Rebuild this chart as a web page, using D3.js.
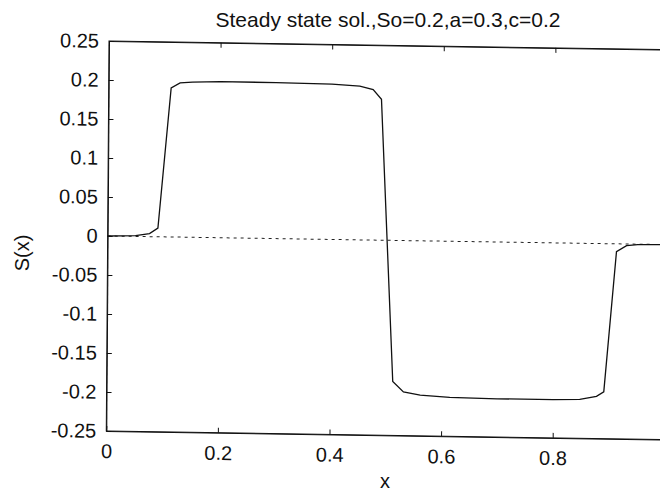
<!DOCTYPE html>
<head>
  <meta charset="utf-8">
  <script src="https://d3js.org/d3.v7.min.js"></script>
  <style>
    body { margin:0; background:#fff; }
    text { font-family: "Liberation Sans", Arial, sans-serif; fill:#111; }
  </style>
</head>

<body>
  <script>
    // steady state solution
    var xs = [0, 0.05, 0.075, 0.09, 0.112, 0.128, 0.15, 0.2, 0.3, 0.4, 0.45, 0.474, 0.489,
              0.5127, 0.532, 0.562, 0.615, 0.7, 0.8, 0.848, 0.878, 0.891, 0.912, 0.93, 0.95, 1.0];
    var ss = [0, 0.001, 0.004, 0.0112, 0.191, 0.1976, 0.199, 0.2, 0.2, 0.199, 0.197, 0.193, 0.1807,
              -0.181, -0.194, -0.1977, -0.2, -0.201, -0.201, -0.2, -0.196, -0.19, -0.0101, -0.0022, -0.0005, 0];
    var yTicks = [0.25, 0.2, 0.15, 0.1, 0.05, 0, -0.05, -0.1, -0.15, -0.2, -0.25];
    var yTickLabels = ["0.25", "0.2", "0.15", "0.1", "0.05", "0", "-0.05", "-0.1", "-0.15", "-0.2", "-0.25"];
    var xTicks = [0, 0.2, 0.4, 0.6, 0.8];
    var xTickLabels = ["0", "0.2", "0.4", "0.6", "0.8"];

    var width = 660, height = 492;
    var w = 558, h = 390;   // plot box (right edge falls off the page)

    var svg = d3.select('body').append("svg")
      .attr("width", width)
      .attr("height", height);

    // the scanned figure is slightly skewed
    var g = svg.append("g")
      .attr("transform", "translate(109,41) matrix(1,0.0154,-0.007,1,0,0)");

    var x = d3.scaleLinear().domain([0, 1]).range([0, w]);
    var y = d3.scaleLinear().domain([-0.25, 0.25]).range([h, 0]);

    // zero line
    g.append("line")
      .attr("x1", x(0)).attr("x2", x(1))
      .attr("y1", y(0)).attr("y2", y(0))
      .attr("stroke", "#222")
      .attr("stroke-width", 1)
      .attr("stroke-dasharray", "3,4");

    var line = d3.line()
      .x(function(d) { return x(d[0]); })
      .y(function(d) { return y(d[1]); });

    g.append("path")
      .datum(xs.map(function(v, i) { return [v, ss[i]]; }))
      .attr("d", line)
      .attr("fill", "none")
      .attr("stroke", "#111")
      .attr("stroke-width", 1.3);

    var yAxis = d3.axisLeft(y).tickValues(yTicks)
      .tickFormat(function(d, i) { return yTickLabels[i]; })
      .tickSizeInner(-5).tickSizeOuter(0).tickPadding(10);
    var xAxis = d3.axisBottom(x).tickValues(xTicks)
      .tickFormat(function(d, i) { return xTickLabels[i]; })
      .tickSizeInner(-5).tickSizeOuter(0).tickPadding(13);

    g.append("g").call(yAxis);
    g.append("g").attr("transform", "translate(0," + h + ")").call(xAxis);
    g.append("g").call(d3.axisTop(x).tickValues(xTicks).tickFormat("").tickSizeInner(-5).tickSizeOuter(0));

    g.selectAll(".tick text").attr("font-size", 20).attr("font-family", null);
    g.selectAll(".domain").attr("stroke", "#111");
    g.selectAll(".tick line").attr("stroke", "#111");

    g.append("rect")
      .attr("width", w).attr("height", h)
      .attr("fill", "none")
      .attr("stroke", "#111")
      .attr("stroke-width", 1);

    svg.append("text")
      .attr("x", 388).attr("y", 27)
      .attr("text-anchor", "middle")
      .attr("font-size", 21)
      .text("Steady state sol.,So=0.2,a=0.3,c=0.2");

    svg.append("text")
      .attr("x", 385).attr("y", 488)
      .attr("text-anchor", "middle")
      .attr("font-size", 20)
      .text("x");

    svg.append("text")
      .attr("transform", "translate(29,253) rotate(-90)")
      .attr("text-anchor", "middle")
      .attr("font-size", 20)
      .text("S(x)");
  </script>
</body>
